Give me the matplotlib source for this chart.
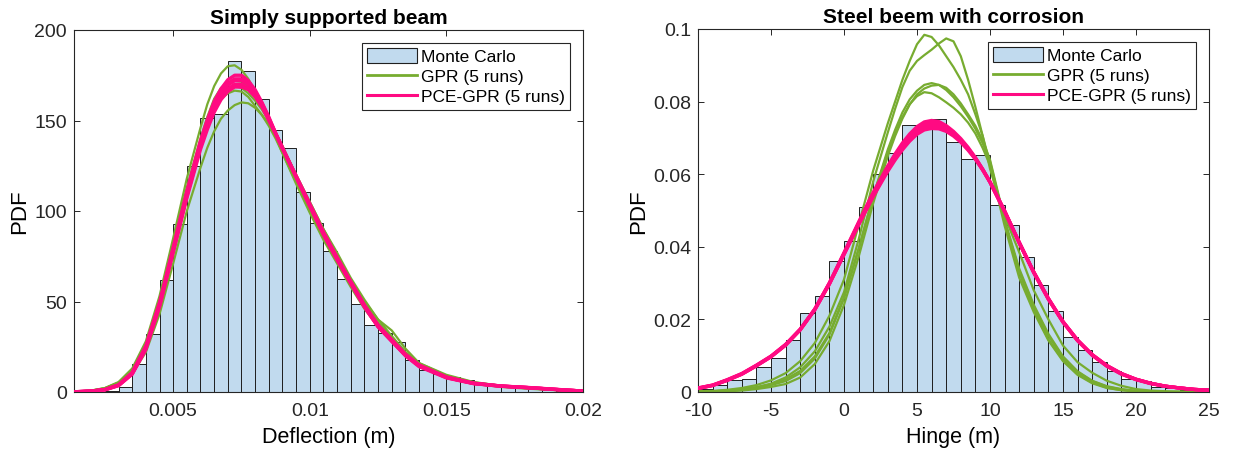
import numpy as np
import matplotlib
matplotlib.use('Agg')
import matplotlib.pyplot as plt
from matplotlib.patches import Patch
from matplotlib.lines import Line2D

plt.rcParams['font.family'] = ['Liberation Sans', 'DejaVu Sans']
plt.rcParams['axes.unicode_minus'] = False

# ---------------- simply supported beam: deflection ----------------
defl_bin_start = 0.0025
defl_bin_width = 0.0005
defl_hist = [0.8, 2.5, 15.7, 32.2, 62.1, 92.6, 124.9, 151.4, 153.8, 182.9,
             177.3, 162.1, 144.9, 134.8, 110.5, 93.6, 77.9, 62.6, 48.8, 36.8,
             32.8, 27.6, 17.5, 12.0, 9.8, 8.2, 6.4, 4.5, 3.6, 2.7,
             2.0, 1.5, 1.1, 0.8, 0.5]

defl_x = [0.00137, 0.002, 0.0025, 0.003, 0.0035, 0.004, 0.0045, 0.005, 0.0055, 0.006,
          0.00625, 0.0065, 0.00675, 0.007, 0.00725, 0.0075, 0.00775, 0.008, 0.00825, 0.0085, 0.00875, 0.009,
          0.0095, 0.01, 0.0105, 0.011, 0.0115, 0.012, 0.0125, 0.013, 0.0135, 0.014,
          0.015, 0.016, 0.017, 0.018, 0.019, 0.02]

defl_gpr = [
    [0.2, 0.8, 2.2, 5.5, 13, 28, 53, 85, 118, 146,
     159, 169, 176, 180, 180.5, 178, 173, 166, 158, 150, 141, 132,
     115, 99, 84, 71, 58, 46, 36, 28, 20, 14.5,
     8, 4.5, 2.8, 1.8, 1.0, 0.4],
    [0.2, 0.7, 2.0, 5.0, 12, 26, 50, 80, 110, 136,
     147, 156, 162, 165, 166.5, 166, 163, 158, 153, 147, 140, 132,
     116, 100, 86, 73, 60, 48, 38, 30, 21.5, 15,
     8.5, 5, 3, 2, 1.1, 0.4],
    [0.1, 0.5, 1.6, 4.2, 10, 22, 43, 71, 100, 124,
     135, 144, 151, 155.5, 158.5, 160, 159.5, 157, 153, 148, 142, 135,
     120, 105, 90, 76, 62, 50, 40, 31, 22, 15.5,
     8.5, 5, 3.2, 2.2, 1.2, 0.5],
    [0.2, 0.7, 2.0, 5.0, 12, 26, 51, 82, 113, 140,
     152, 162, 168, 171, 172, 171.5, 169, 164, 158, 151, 143, 134,
     117, 101, 86, 73, 60, 48, 38, 30, 22, 16,
     9, 5.3, 3.5, 2.4, 1.4, 0.5],
    [0.2, 0.8, 2.1, 5.2, 12, 26, 50, 80, 111, 138,
     150, 159, 165, 168, 169, 168, 165, 161, 156, 150, 143, 136,
     120, 105, 90, 77, 63, 51, 40, 34, 24, 16,
     9.5, 5.5, 3.4, 2.3, 1.3, 0.5],
]

defl_pce = [
    [0.1, 0.5, 1.4, 4.0, 10.8, 25.5, 49.5, 80, 111, 139,
     150.5, 160.5, 167.5, 172.5, 175, 175, 172, 167, 160, 152, 143, 135,
     119, 103, 87, 73, 60, 47, 36, 28, 20, 14,
     7.8, 4.6, 3.2, 2.4, 1.4, 0.5],
    [0.1, 0.5, 1.3, 3.8, 10.5, 25, 49, 79, 110, 138,
     149, 159, 166, 170.5, 173, 173, 170.5, 166, 159.5, 151.5, 143, 134.5,
     118.5, 102.5, 87, 73, 60, 47, 36, 28, 20.5, 14.5,
     8, 4.7, 3.2, 2.4, 1.4, 0.5],
    [0.1, 0.5, 1.3, 3.7, 10.2, 24.5, 48, 78, 109, 137,
     148, 158, 165, 169.5, 172, 172, 170, 165.5, 159, 151, 143, 135,
     119, 103, 87.5, 73.5, 60.5, 47.5, 36.5, 28.5, 20.5, 14.5,
     8, 4.7, 3.3, 2.4, 1.4, 0.5],
    [0.1, 0.4, 1.2, 3.6, 10, 24, 47.5, 77.5, 108, 135.5,
     146.5, 156, 163, 167.5, 170, 170, 168, 164, 158, 150.5, 142.5, 134.5,
     119, 103.5, 88, 74, 61, 48, 37, 28.5, 20.5, 14.5,
     8.2, 4.8, 3.3, 2.4, 1.4, 0.5],
    [0.1, 0.4, 1.2, 3.5, 9.8, 23.5, 47, 77, 107, 134,
     145, 154.5, 161.5, 166, 168.5, 168.5, 167, 163, 157.5, 150, 142.5, 134.5,
     119.5, 104, 88.5, 74.5, 61, 48, 37, 29, 21, 15,
     8.3, 4.9, 3.3, 2.5, 1.5, 0.5],
]

# ---------------- steel beam with corrosion: hinge ----------------
hinge_bin_start = -10
hinge_bin_width = 1
hinge_hist = [0.0009, 0.0018, 0.0032, 0.0037, 0.0069, 0.0094, 0.0142, 0.0217, 0.0264, 0.0361,
              0.0415, 0.0509, 0.0601, 0.0659, 0.0736, 0.0733, 0.0752, 0.0689, 0.0641, 0.0654,
              0.0514, 0.0459, 0.0372, 0.0295, 0.0222, 0.0151, 0.0117, 0.0083, 0.0059, 0.0035,
              0.0029, 0.0014, 0.0011, 0.0005, 0.0002]

hinge_x = [-10, -9, -8, -7, -6, -5, -4, -3, -2, -1, 0, 1, 2, 3,
           3.5, 4, 4.5, 5, 5.5, 6, 6.5, 7, 7.5, 8, 8.5, 9, 9.5, 10,
           11, 12, 13, 14, 15, 16, 17, 18, 19, 20, 21, 22, 23, 24, 25]

hinge_gpr = [
    [0.0002, 0.0003, 0.0006, 0.0011, 0.0019, 0.0032, 0.0052, 0.0085, 0.0135, 0.0210, 0.0310, 0.0460, 0.0610, 0.0740,
     0.0800, 0.0860, 0.0912, 0.0958, 0.0984, 0.0978, 0.0955, 0.0925, 0.0895, 0.0860, 0.0820, 0.0765, 0.0705, 0.0630,
     0.0470, 0.0330, 0.0225, 0.0145, 0.0088, 0.0050, 0.0026, 0.0012, 0.0005, 0.0002, 0.0001, 0.0, 0.0, 0.0, 0.0],
    [0.0001, 0.0002, 0.0004, 0.0007, 0.0013, 0.0023, 0.0040, 0.0068, 0.0112, 0.0180, 0.0275, 0.0420, 0.0580, 0.0715,
     0.0780, 0.0840, 0.0885, 0.0912, 0.0928, 0.0943, 0.0960, 0.0974, 0.0966, 0.0925, 0.0860, 0.0785, 0.0705, 0.0615,
     0.0485, 0.0385, 0.0280, 0.0200, 0.0128, 0.0082, 0.0053, 0.0031, 0.0017, 0.0008, 0.0004, 0.0002, 0.0001, 0.0, 0.0],
    [0.0001, 0.0002, 0.0003, 0.0006, 0.0011, 0.0019, 0.0030, 0.0052, 0.0092, 0.0158, 0.0258, 0.0392, 0.0540, 0.0668,
     0.0722, 0.0770, 0.0806, 0.0830, 0.0846, 0.0851, 0.0846, 0.0832, 0.0812, 0.0787, 0.0758, 0.0725, 0.0685, 0.0635,
     0.0470, 0.0335, 0.0235, 0.0155, 0.0095, 0.0055, 0.0030, 0.0015, 0.0007, 0.0003, 0.0001, 0.0, 0.0, 0.0, 0.0],
    [0.0001, 0.0001, 0.0002, 0.0004, 0.0008, 0.0014, 0.0022, 0.0040, 0.0077, 0.0140, 0.0240, 0.0372, 0.0520, 0.0650,
     0.0705, 0.0753, 0.0792, 0.0820, 0.0836, 0.0844, 0.0846, 0.0838, 0.0820, 0.0795, 0.0765, 0.0733, 0.0693, 0.0640,
     0.0475, 0.0340, 0.0240, 0.0160, 0.0098, 0.0057, 0.0031, 0.0016, 0.0008, 0.0003, 0.0001, 0.0, 0.0, 0.0, 0.0],
    [0.0001, 0.0002, 0.0004, 0.0008, 0.0013, 0.0021, 0.0035, 0.0058, 0.0098, 0.0162, 0.0262, 0.0395, 0.0540, 0.0660,
     0.0712, 0.0757, 0.0793, 0.0815, 0.0826, 0.0823, 0.0812, 0.0798, 0.0783, 0.0765, 0.0742, 0.0712, 0.0672, 0.0625,
     0.0458, 0.0315, 0.0220, 0.0142, 0.0085, 0.0047, 0.0024, 0.0011, 0.0005, 0.0002, 0.0001, 0.0, 0.0, 0.0, 0.0],
]

hinge_pce = [
    [0.0010, 0.0018, 0.0032, 0.0049, 0.0072, 0.0097, 0.0129, 0.0171, 0.0228, 0.0301, 0.0384, 0.0468, 0.0550, 0.0623,
     0.0656, 0.0686, 0.0711, 0.0731, 0.0744, 0.0748, 0.0745, 0.0734, 0.0718, 0.0698, 0.0674, 0.0646, 0.0614, 0.0579,
     0.0497, 0.0410, 0.0328, 0.0255, 0.0192, 0.0141, 0.0101, 0.0071, 0.0049, 0.0034, 0.0023, 0.0016, 0.0011, 0.0007, 0.0005],
    [0.0011, 0.0019, 0.0033, 0.0050, 0.0073, 0.0098, 0.0130, 0.0173, 0.0229, 0.0300, 0.0382, 0.0466, 0.0547, 0.0619,
     0.0652, 0.0681, 0.0706, 0.0726, 0.0739, 0.0743, 0.0740, 0.0730, 0.0715, 0.0695, 0.0671, 0.0644, 0.0613, 0.0578,
     0.0498, 0.0411, 0.0329, 0.0256, 0.0193, 0.0142, 0.0102, 0.0072, 0.0050, 0.0035, 0.0024, 0.0016, 0.0011, 0.0007, 0.0005],
    [0.0010, 0.0018, 0.0033, 0.0050, 0.0073, 0.0098, 0.0131, 0.0172, 0.0227, 0.0298, 0.0380, 0.0463, 0.0543, 0.0615,
     0.0647, 0.0676, 0.0701, 0.0721, 0.0734, 0.0738, 0.0736, 0.0727, 0.0712, 0.0693, 0.0670, 0.0644, 0.0613, 0.0579,
     0.0499, 0.0412, 0.0330, 0.0257, 0.0193, 0.0142, 0.0102, 0.0072, 0.0050, 0.0035, 0.0024, 0.0016, 0.0011, 0.0007, 0.0005],
    [0.0011, 0.0019, 0.0034, 0.0051, 0.0074, 0.0099, 0.0131, 0.0173, 0.0228, 0.0299, 0.0380, 0.0462, 0.0541, 0.0612,
     0.0643, 0.0671, 0.0696, 0.0715, 0.0728, 0.0732, 0.0731, 0.0723, 0.0709, 0.0691, 0.0668, 0.0642, 0.0612, 0.0578,
     0.0498, 0.0412, 0.0330, 0.0257, 0.0194, 0.0143, 0.0103, 0.0073, 0.0051, 0.0035, 0.0024, 0.0016, 0.0011, 0.0007, 0.0005],
    [0.0010, 0.0018, 0.0032, 0.0049, 0.0072, 0.0097, 0.0129, 0.0171, 0.0226, 0.0297, 0.0378, 0.0460, 0.0538, 0.0608,
     0.0639, 0.0667, 0.0691, 0.0710, 0.0722, 0.0726, 0.0725, 0.0718, 0.0705, 0.0688, 0.0666, 0.0641, 0.0611, 0.0578,
     0.0499, 0.0413, 0.0331, 0.0258, 0.0194, 0.0143, 0.0103, 0.0073, 0.0051, 0.0035, 0.0024, 0.0016, 0.0011, 0.0007, 0.0005],
]

# colours (MATLAB-like)
BAR_FACE = '#c1daee'
BAR_EDGE = '#1f1f1f'
GPR_COLOR = '#77ac30'
PCE_COLOR = '#ff0a82'
AX_COLOR = '#262626'


def draw_panel(ax, bin_start, bin_width, hist, x, gpr_runs, pce_runs, title, xlabel):
    left_edges = bin_start + bin_width * np.arange(len(hist))
    ax.bar(left_edges, hist, width=bin_width, align='edge',
           color=BAR_FACE, edgecolor=BAR_EDGE, linewidth=0.7, zorder=1)
    for run in gpr_runs:
        ax.plot(x, run, color=GPR_COLOR, lw=1.6, solid_joinstyle='round', zorder=2)
    for run in pce_runs:
        ax.plot(x, run, color=PCE_COLOR, lw=2.4, solid_joinstyle='round', zorder=3)

    ax.set_title(title, fontsize=15, fontweight='bold', pad=5)
    ax.set_xlabel(xlabel, fontsize=15.5, labelpad=5)
    ax.set_ylabel('PDF', fontsize=16, labelpad=3)

    ax.tick_params(direction='in', top=True, right=True, length=4, width=0.7,
                   labelsize=14, colors=AX_COLOR)
    ax.tick_params(axis='x', pad=7)
    ax.tick_params(axis='y', pad=5)
    for sp in ax.spines.values():
        sp.set_color(AX_COLOR)
        sp.set_linewidth(0.8)

    handles = [Patch(facecolor=BAR_FACE, edgecolor=BAR_EDGE, linewidth=0.8),
               Line2D([], [], color=GPR_COLOR, lw=2.0),
               Line2D([], [], color=PCE_COLOR, lw=2.2)]
    labels = ['Monte Carlo', 'GPR (5 runs)', 'PCE-GPR (5 runs)']
    leg = ax.legend(handles, labels, loc='upper right', fontsize=12.5,
                    frameon=True, fancybox=False, framealpha=1, edgecolor=AX_COLOR,
                    handlelength=2.9, handleheight=0.9, handletextpad=0.2,
                    labelspacing=0.22, borderpad=0.3, borderaxespad=0.75)
    leg.get_frame().set_linewidth(0.8)


fig = plt.figure(figsize=(12.36, 4.52), dpi=100)

ax1 = fig.add_axes([74 / 1236, 59 / 452, 509 / 1236, 362 / 452])
draw_panel(ax1, defl_bin_start, defl_bin_width, defl_hist, defl_x, defl_gpr, defl_pce,
           'Simply supported beam', 'Deflection (m)')
ax1.set_xlim(0.00137, 0.02)
ax1.set_ylim(0, 200)
ax1.set_xticks([0.005, 0.01, 0.015, 0.02])
ax1.set_xticklabels(['0.005', '0.01', '0.015', '0.02'])
ax1.set_yticks([0, 50, 100, 150, 200])

ax2 = fig.add_axes([698 / 1236, 59 / 452, 511 / 1236, 363 / 452])
draw_panel(ax2, hinge_bin_start, hinge_bin_width, hinge_hist, hinge_x, hinge_gpr, hinge_pce,
           'Steel beem with corrosion', 'Hinge (m)')
ax2.set_xlim(-10, 25)
ax2.set_ylim(0, 0.1)
ax2.set_xticks([-10, -5, 0, 5, 10, 15, 20, 25])
ax2.set_yticks([0, 0.02, 0.04, 0.06, 0.08, 0.1])
ax2.set_yticklabels(['0', '0.02', '0.04', '0.06', '0.08', '0.1'])

fig.savefig('out.png', dpi=100)
